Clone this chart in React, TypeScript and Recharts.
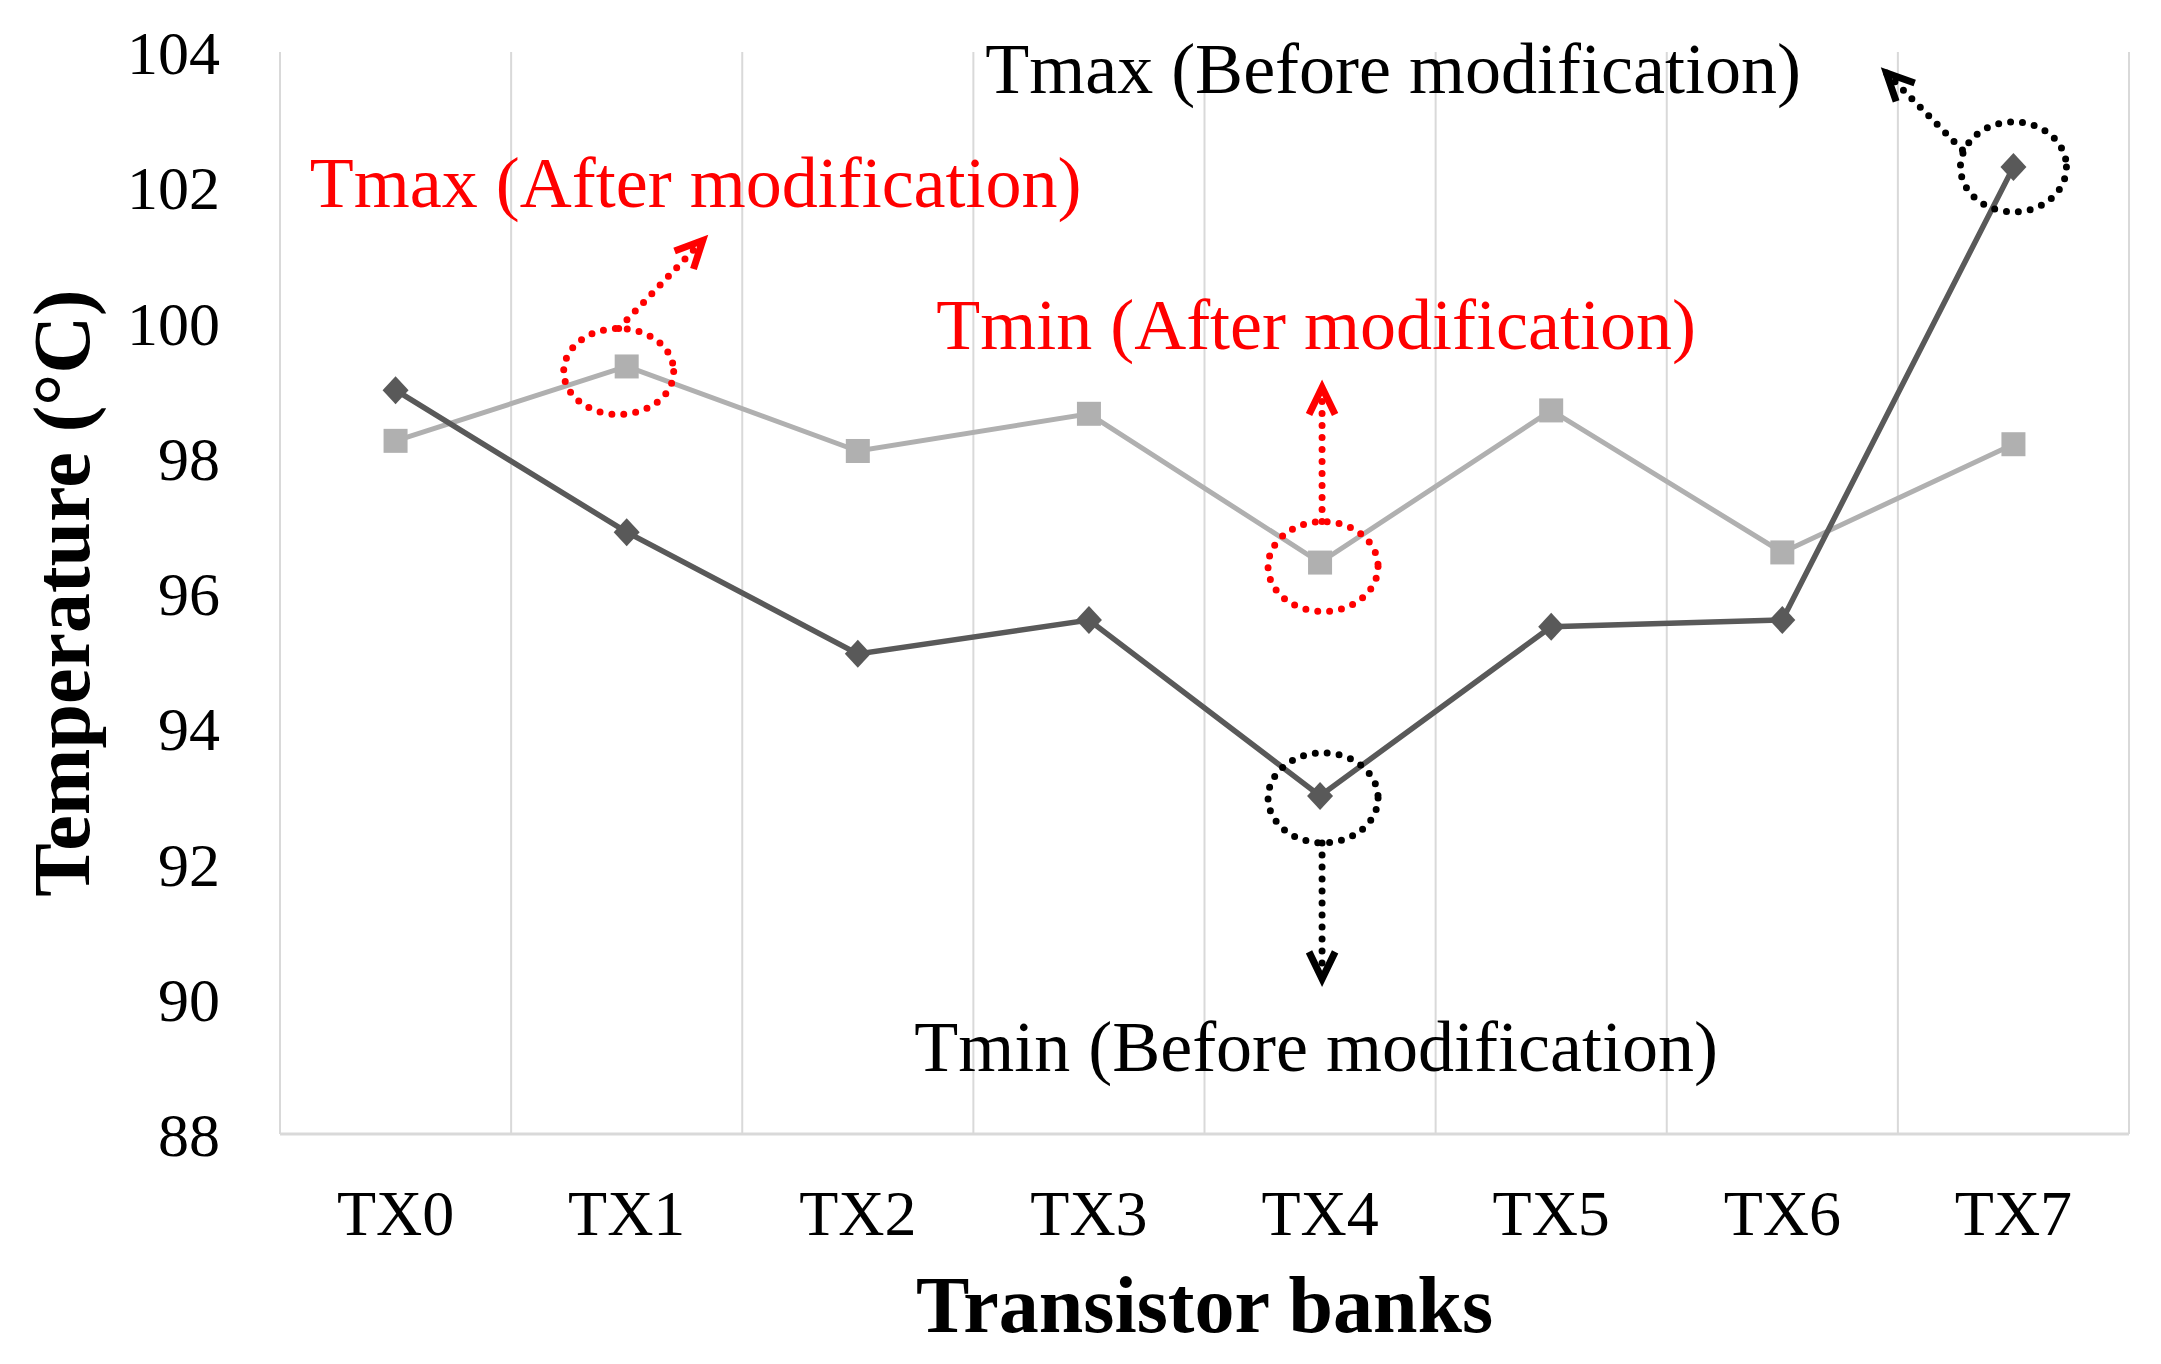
import { LineChart, Line, XAxis, YAxis, CartesianGrid, ReferenceDot } from 'recharts'

const banks = ['TX0', 'TX1', 'TX2', 'TX3', 'TX4', 'TX5', 'TX6', 'TX7']
const tBefore = [99.0, 96.9, 95.1, 95.6, 93.0, 95.5, 95.6, 102.3]
const tAfter = [98.25, 99.35, 98.1, 98.65, 96.45, 98.7, 96.6, 98.2]
const yTicks = [88, 90, 92, 94, 96, 98, 100, 102, 104]
const bandEdges = [0, 1, 2, 3, 4, 5, 6, 7, 8]

const data = banks.map((bank, i) => ({ bank, before: tBefore[i], after: tAfter[i] }))

const FONT = '"Liberation Serif", "Times New Roman", serif'
const RED = '#ff0000'
const DARK = '#595959'
const LIGHT = '#b0b0b0'

// callouts around the extreme points: ellipse + dotted arrow (offsets in px from the point)
const callouts = [
  { bank: 'TX1', value: tAfter[1], color: RED, ox: -8, oy: 5, rx: 55, ry: 43, sx: -8, sy: -38, ex: 76, ey: -126 },
  { bank: 'TX4', value: tAfter[4], color: RED, ox: 3, oy: 4, rx: 55, ry: 45, sx: 2, sy: -41, ex: 2, ey: -175 },
  { bank: 'TX4', value: tBefore[4], color: '#000', ox: 3, oy: 2, rx: 55, ry: 45, sx: 2, sy: 47, ex: 2, ey: 183 },
  { bank: 'TX7', value: tBefore[7], color: '#000', ox: 0, oy: 0, rx: 53, ry: 45, sx: -51, sy: -17, ex: -127, ey: -94 },
]

// text annotations, anchored to a bank and temperature, shifted by dx px
const notes = [
  { text: 'Tmax (Before modification)', bank: 'TX4', y: 103.75, dx: 73, color: '#000' },
  { text: 'Tmax (After modification)', bank: 'TX1', y: 102.06, dx: 69, color: RED },
  { text: 'Tmin (After modification)', bank: 'TX4', y: 99.96, dx: -4, color: RED },
  { text: 'Tmin (Before modification)', bank: 'TX4', y: 89.28, dx: -4, color: '#000' },
]

function Diamond(props: any) {
  const { cx, cy } = props
  if (cx == null || cy == null) return null
  return <polygon points={`${cx},${cy - 14} ${cx + 13},${cy} ${cx},${cy + 14} ${cx - 13},${cy}`} fill={DARK} />
}

function Square(props: any) {
  const { cx, cy } = props
  if (cx == null || cy == null) return null
  return <rect x={cx - 12} y={cy - 12} width={24} height={24} fill={LIGHT} />
}

function Callout({ cx, cy, c }: any) {
  const x1 = cx + c.sx
  const y1 = cy + c.sy
  const x2 = cx + c.ex
  const y2 = cy + c.ey
  const ang = Math.atan2(y2 - y1, x2 - x1)
  const len = 30
  const spread = 0.45
  const a1x = x2 - len * Math.cos(ang - spread)
  const a1y = y2 - len * Math.sin(ang - spread)
  const a2x = x2 - len * Math.cos(ang + spread)
  const a2y = y2 - len * Math.sin(ang + spread)
  const dotted = { stroke: c.color, strokeWidth: 7, strokeDasharray: '0 12', strokeLinecap: 'round' as const, fill: 'none' }
  return (
    <g>
      <ellipse cx={cx + c.ox} cy={cy + c.oy} rx={c.rx} ry={c.ry} {...dotted} />
      <line x1={x1} y1={y1} x2={x2} y2={y2} {...dotted} />
      <polyline points={`${a1x},${a1y} ${x2},${y2} ${a2x},${a2y}`} stroke={c.color} strokeWidth={7} fill="none" />
    </g>
  )
}

function YTitle({ viewBox }: any) {
  const x = viewBox.x + 62
  const y = viewBox.y + viewBox.height / 2
  return (
    <text x={x} y={y} transform={`rotate(-90 ${x} ${y})`} textAnchor="middle" dominantBaseline="central"
      fontFamily={FONT} fontWeight="bold" fontSize={80} fill="#000">
      Temperature (°C)
    </text>
  )
}

// vertical grid lines on the band edges
const bandGrid = ({ offset }: any) => bandEdges.map((e) => offset.left + (e * offset.width) / banks.length)

export default function App() {
  return (
    <div style={{ position: 'absolute', left: 0, top: 0, background: '#fff' }}>
      <LineChart width={2161} height={1364} data={data} margin={{ top: 52, right: 32, left: 0, bottom: 0 }}>
        <CartesianGrid horizontal={false} verticalCoordinatesGenerator={bandGrid} stroke="#d9d9d9" strokeWidth={2} />
        <XAxis
          dataKey="bank"
          scale="band"
          height={230}
          axisLine={{ stroke: '#d9d9d9', strokeWidth: 3 }}
          tickLine={false}
          tickSize={0}
          tickMargin={56}
          tick={{ fontFamily: FONT, fontSize: 64, fill: '#000' }}
          label={{ value: 'Transistor banks', position: 'insideBottom', offset: 32, fontFamily: FONT, fontSize: 80, fontWeight: 'bold', fill: '#000' }}
        />
        <YAxis
          width={280}
          domain={[88, 104]}
          ticks={yTicks}
          allowDataOverflow
          axisLine={false}
          tickLine={false}
          tickSize={0}
          tickMargin={60}
          tick={{ fontFamily: FONT, fontSize: 62, fill: '#000' }}
          label={<YTitle />}
        />
        <Line dataKey="after" stroke={LIGHT} strokeWidth={5} isAnimationActive={false}
          dot={(p: any) => <Square key={`s-${p.index}`} {...p} />} />
        <Line dataKey="before" stroke={DARK} strokeWidth={5.5} isAnimationActive={false}
          dot={(p: any) => <Diamond key={`d-${p.index}`} {...p} />} />
        {callouts.map((c, i) => (
          <ReferenceDot key={`c-${i}`} x={c.bank} y={c.value} r={1}
            shape={(p: any) => <Callout cx={p.cx} cy={p.cy} c={c} />} />
        ))}
        {notes.map((n, i) => (
          <ReferenceDot key={`n-${i}`} x={n.bank} y={n.y} r={1}
            shape={(p: any) => (
              <text x={p.cx + n.dx} y={p.cy} textAnchor="middle" dominantBaseline="central" fontFamily={FONT} fontSize={72} fill={n.color}>
                {n.text}
              </text>
            )} />
        ))}
      </LineChart>
    </div>
  )
}
